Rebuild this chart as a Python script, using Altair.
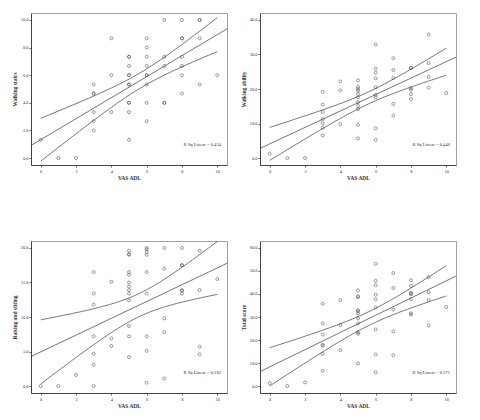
import numpy as np
import pandas as pd
import altair as alt

# VAS ADL score (0-10); each list below holds the outcome values observed at that score
VAS = list(range(11))

STAIRS = [
    [1.33], [0.0], [0.0],
    [5.33, 4.67, 4.67, 3.33, 2.67, 2.0],
    [8.67, 6.0, 3.33],
    [7.33, 7.33, 6.67, 6.0, 6.0, 5.33, 5.33, 4.0, 4.0, 3.33, 1.33],
    [8.67, 8.0, 7.33, 6.67, 6.0, 6.0, 5.33, 4.0, 2.67],
    [10.0, 7.33, 6.67, 4.0, 4.0],
    [10.0, 8.67, 8.67, 7.33, 6.67, 6.0, 4.67],
    [10.0, 10.0, 8.67, 5.33],
    [6.0],
]

ABILITY = [
    [1.3], [0.0], [0.0],
    [19.2, 15.5, 13.4, 11.3, 10.1, 8.8, 6.6],
    [22.2, 19.6, 9.8],
    [22.5, 20.6, 20.0, 19.5, 18.6, 17.6, 16.2, 15.1, 14.2, 9.6, 5.7],
    [32.9, 25.9, 24.7, 23.1, 20.5, 18.3, 17.6, 8.6, 5.3],
    [28.9, 25.5, 23.2, 15.7, 12.3],
    [26.1, 26.1, 20.2, 19.8, 18.5, 17.1],
    [35.8, 27.5, 23.5, 20.4],
    [18.8],
]

RAISING = [
    [0.0], [0.0], [1.6],
    [16.5, 13.4, 11.8, 7.2, 4.7, 3.1, 0.0],
    [15.1, 6.9, 5.8],
    [19.6, 19.1, 19.0, 16.5, 16.1, 15.0, 14.4, 13.9, 13.4, 12.4, 8.7, 7.2, 4.2],
    [20.0, 19.8, 19.4, 19.0, 16.5, 13.4, 7.2, 5.1, 0.5],
    [20.0, 17.0, 9.8, 7.8, 1.1],
    [20.0, 17.5, 17.5, 13.9, 13.8, 13.4],
    [19.6, 13.9, 5.7, 4.6],
    [15.5],
]

TOTAL = [
    [1.3], [0.0], [1.6],
    [35.7, 27.2, 22.4, 18.0, 17.5, 14.1, 6.7],
    [37.3, 26.5, 15.6],
    [41.5, 39.0, 38.6, 33.0, 32.5, 31.6, 29.4, 27.2, 23.3, 22.7, 9.8],
    [53.1, 45.7, 43.8, 39.7, 37.7, 34.1, 24.6, 13.7, 6.0],
    [49.1, 42.6, 33.2, 23.7, 13.4],
    [46.0, 43.5, 40.3, 40.3, 39.9, 37.7, 31.6, 31.1],
    [47.3, 40.8, 37.4, 26.3],
    [34.4],
]

TITLES = ["Walking stairs", "Walking ability", "Raising and sitting", "Total score"]
R2_TEXT = ["0.434", "0.446", "0.182", "0.371"]
Y_DOMAINS = [[-0.5, 10.5], [-2.0, 42.0], [-1.0, 21.0], [-3.0, 63.0]]
Y_TICKS = [[0, 2, 4, 6, 8, 10], [0, 10, 20, 30, 40], [0, 5, 10, 15, 20],
           [0, 10, 20, 30, 40, 50, 60]]
X_DOMAIN = [-0.55, 10.55]
X_TICKS = [0, 2, 4, 6, 8, 10]

SERIF = "Liberation Serif"
LINE_COLOR = "#3a3a3a"
POINT_COLOR = "#5a5a5a"
TEXT_COLOR = "#333333"


def t_975(df):
    """Two-sided 95% Student t quantile (Cornish-Fisher expansion)."""
    z = 1.959964
    return (z + (z**3 + z) / (4 * df)
            + (5 * z**5 + 16 * z**3 + 3 * z) / (96 * df**2))


def panel(cols, title, ydom, yticks, r2):
    xs = [v for v, col in zip(VAS, cols) for _ in col]
    ys = [y for col in cols for y in col]
    pts = pd.DataFrame({"x": xs, "y": ys})

    # least-squares fit with 95% confidence band for the mean
    x = np.asarray(xs, float)
    y = np.asarray(ys, float)
    n = len(x)
    b1, b0 = np.polyfit(x, y, 1)
    s = np.sqrt(np.sum((y - (b0 + b1 * x)) ** 2) / (n - 2))
    sxx = np.sum((x - x.mean()) ** 2)
    grid = np.linspace(0, 10, 101)
    half = t_975(n - 2) * s * np.sqrt(1 / n + (grid - x.mean()) ** 2 / sxx)
    band = pd.DataFrame({"x": grid, "lo": b0 + b1 * grid - half,
                         "hi": b0 + b1 * grid + half})
    xl = np.array(X_DOMAIN)
    fit = pd.DataFrame({"x": xl, "y": b0 + b1 * xl})

    xs_ = alt.Scale(domain=X_DOMAIN, nice=False, zero=False)
    ys_ = alt.Scale(domain=ydom, nice=False, zero=False)

    def xenc():
        return alt.X("x:Q", scale=xs_, axis=alt.Axis(
            values=X_TICKS, format="d", title="VAS ADL",
            labelOverlap=False, labelFlush=False))

    def yenc(col):
        return alt.Y(f"{col}:Q", scale=ys_, axis=alt.Axis(
            values=yticks, format=".1f", title=title,
            labelOverlap=False, labelFlush=False))

    points = alt.Chart(pts).mark_point(
        shape="circle", filled=False, size=9, strokeWidth=0.6,
        color=POINT_COLOR, opacity=1,
    ).encode(x=xenc(), y=yenc("y"))

    def curve(df, col):
        return alt.Chart(df).mark_line(
            color=LINE_COLOR, strokeWidth=0.7, clip=True
        ).encode(x=xenc(), y=yenc(col))

    label = alt.Chart(pd.DataFrame({"t": [f"R Sq Linear = {r2}"]})).mark_text(
        align="right", baseline="middle", font=SERIF, fontSize=4.6,
        color=TEXT_COLOR,
    ).encode(x=alt.value(190), y=alt.value(132), text="t:N")

    return alt.layer(
        points, curve(fit, "y"), curve(band, "lo"), curve(band, "hi"), label
    ).properties(width=196, height=152)


panels = [panel(c, t, d, k, r)
          for c, t, d, k, r in zip([STAIRS, ABILITY, RAISING, TOTAL],
                                   TITLES, Y_DOMAINS, Y_TICKS, R2_TEXT)]

chart = alt.concat(
    *panels, columns=2, spacing={"row": 58, "column": 12}
).properties(
    padding={"left": 11, "top": 12, "right": 4, "bottom": 4},
    background="white",
).configure_view(
    stroke="#a0a0a0", strokeWidth=1,
).configure_axis(
    grid=False,
    domainColor="#444444", domainWidth=1,
    tickColor="#444444", tickSize=2, tickWidth=0.8,
    labelFont=SERIF, labelFontSize=4.5, labelColor=TEXT_COLOR, labelPadding=1,
    titleFont=SERIF, titleFontSize=5.5, titleFontWeight="bold",
    titleColor=TEXT_COLOR,
).configure_axisX(titlePadding=3).configure_axisY(titlePadding=3)

chart.save("out.html", embed_options={"renderer": "svg", "actions": False})
